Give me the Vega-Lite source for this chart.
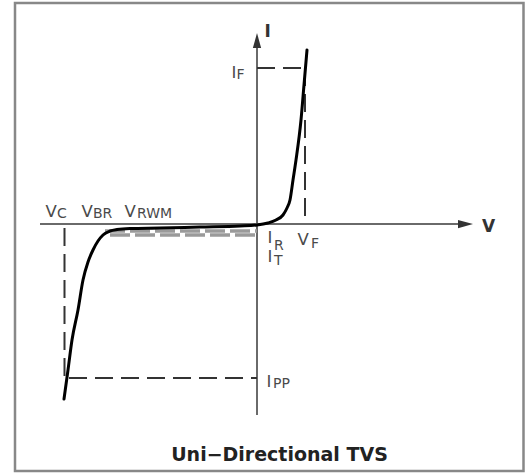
{
  "$schema": "https://vega.github.io/schema/vega-lite/v6.json",
  "width": 525,
  "height": 473,
  "autosize": {"type": "fit", "contains": "padding"},
  "padding": 0,
  "background": "white",
  "config": {"view": {"stroke": null}},
  "encoding": {
    "x": {"field": "x", "type": "quantitative", "axis": null, "scale": {"domain": [-25.7, 26.8], "nice": false, "zero": false}},
    "y": {"field": "y", "type": "quantitative", "axis": null, "scale": {"domain": [-24.9, 22.4], "nice": false, "zero": false}}
  },
  "layer": [
    {
      "data": {"values": [{"x": -24.2, "y": 22.1, "x2": 26.65, "y2": -24.7}]},
      "mark": {"type": "rect", "fillOpacity": 0, "stroke": "#888888", "strokeWidth": 2.5},
      "encoding": {"x2": {"field": "x2"}, "y2": {"field": "y2"}}
    },
    {
      "data": {"values": [
        {"x": -21.7, "y": 0, "x2": 20.1, "y2": 0},
        {"x": 0, "y": 17.6, "x2": 0, "y2": -19.1}
      ]},
      "mark": {"type": "rule", "stroke": "#6a6a6a", "strokeWidth": 2},
      "encoding": {"x2": {"field": "x2"}, "y2": {"field": "y2"}}
    },
    {
      "data": {"values": [{"x": 20.85, "y": 0}]},
      "mark": {"type": "point", "shape": "M -1 -0.55 L 1 0 L -1 0.55 Z", "size": 225, "filled": true, "fill": "#333333", "strokeWidth": 0, "opacity": 1}
    },
    {
      "data": {"values": [{"x": 0, "y": 18.35}]},
      "mark": {"type": "point", "shape": "M -0.55 1 L 0 -1 L 0.55 1 Z", "size": 225, "filled": true, "fill": "#333333", "strokeWidth": 0, "opacity": 1}
    },
    {
      "data": {"values": [
        {"x": -15.2, "y": -0.7, "x2": 0, "y2": -0.7},
        {"x": -14.7, "y": -1.1, "x2": 0, "y2": -1.1}
      ]},
      "mark": {"type": "rule", "stroke": "#9a9a9a", "strokeWidth": 3.5, "strokeDash": [20, 5]},
      "encoding": {"x2": {"field": "x2"}, "y2": {"field": "y2"}}
    },
    {
      "data": {"values": [
        {"x": -19.25, "y": -0.4, "x2": -19.25, "y2": -15.4},
        {"x": -18.8, "y": -15.4, "x2": 0, "y2": -15.4},
        {"x": 0, "y": 15.6, "x2": 4.9, "y2": 15.6},
        {"x": 4.8, "y": 15.6, "x2": 4.8, "y2": 0}
      ]},
      "mark": {"type": "rule", "stroke": "#333333", "strokeWidth": 2, "strokeDash": [18, 8]},
      "encoding": {"x2": {"field": "x2"}, "y2": {"field": "y2"}}
    },
    {
      "data": {"values": [
        {"x": -19.3, "y": -17.5},
        {"x": -18.9, "y": -14.6},
        {"x": -18.5, "y": -11.6},
        {"x": -17.9, "y": -8.6},
        {"x": -17.4, "y": -5.6},
        {"x": -16.9, "y": -3.8},
        {"x": -16.4, "y": -2.6},
        {"x": -15.9, "y": -1.7},
        {"x": -15.4, "y": -1.1},
        {"x": -14.7, "y": -0.7},
        {"x": -14.0, "y": -0.55},
        {"x": -12.7, "y": -0.45},
        {"x": -9.7, "y": -0.4},
        {"x": -5.7, "y": -0.3},
        {"x": -1.7, "y": -0.2},
        {"x": 0, "y": -0.1},
        {"x": 1.1, "y": 0.1},
        {"x": 1.9, "y": 0.4},
        {"x": 2.6, "y": 0.9},
        {"x": 3.0, "y": 1.6},
        {"x": 3.3, "y": 2.4},
        {"x": 3.6, "y": 4.4},
        {"x": 3.9, "y": 6.4},
        {"x": 4.4, "y": 10.4},
        {"x": 4.7, "y": 13.9},
        {"x": 5.0, "y": 17.4}
      ]},
      "mark": {"type": "line", "color": "#000000", "strokeWidth": 3, "interpolate": "monotone", "strokeCap": "round"},
      "encoding": {"order": {"field": "x", "type": "quantitative"}}
    },
    {
      "data": {"values": [
        {"t": "V", "x": -21.15, "y": 0.7},
        {"t": "V", "x": -17.55, "y": 0.7},
        {"t": "V", "x": -13.25, "y": 0.7},
        {"t": "I", "x": 1.05, "y": -1.9},
        {"t": "I", "x": 1.05, "y": -3.8},
        {"t": "V", "x": 4.05, "y": -2.1},
        {"t": "I", "x": -2.55, "y": 14.6},
        {"t": "I", "x": 0.95, "y": -16.3}
      ]},
      "mark": {"type": "text", "align": "left", "baseline": "alphabetic", "font": "DejaVu Sans", "fontSize": 16.5, "color": "#4a4a4a"},
      "encoding": {"text": {"field": "t"}}
    },
    {
      "data": {"values": [
        {"t": "C", "x": -20.0, "y": 0.6},
        {"t": "BR", "x": -16.4, "y": 0.6},
        {"t": "RWM", "x": -12.0, "y": 0.6},
        {"t": "R", "x": 1.7, "y": -2.6},
        {"t": "T", "x": 1.7, "y": -4.1},
        {"t": "F", "x": 5.4, "y": -2.4},
        {"t": "F", "x": -2.05, "y": 14.5},
        {"t": "PP", "x": 1.6, "y": -16.4}
      ]},
      "mark": {"type": "text", "align": "left", "baseline": "alphabetic", "font": "DejaVu Sans", "fontSize": 14, "color": "#4a4a4a"},
      "encoding": {"text": {"field": "t"}}
    },
    {
      "data": {"values": [
        {"t": "I", "x": 0.75, "y": 18.7},
        {"t": "V", "x": 22.5, "y": -0.8}
      ]},
      "mark": {"type": "text", "align": "left", "baseline": "alphabetic", "font": "DejaVu Sans", "fontWeight": "bold", "fontSize": 17, "color": "#333333"},
      "encoding": {"text": {"field": "t"}}
    },
    {
      "data": {"values": [{"t": "Uni−Directional TVS", "x": 2.25, "y": -23.7}]},
      "mark": {"type": "text", "align": "center", "baseline": "alphabetic", "font": "DejaVu Sans", "fontWeight": "bold", "fontSize": 19, "color": "#222222"},
      "encoding": {"text": {"field": "t"}}
    }
  ]
}
